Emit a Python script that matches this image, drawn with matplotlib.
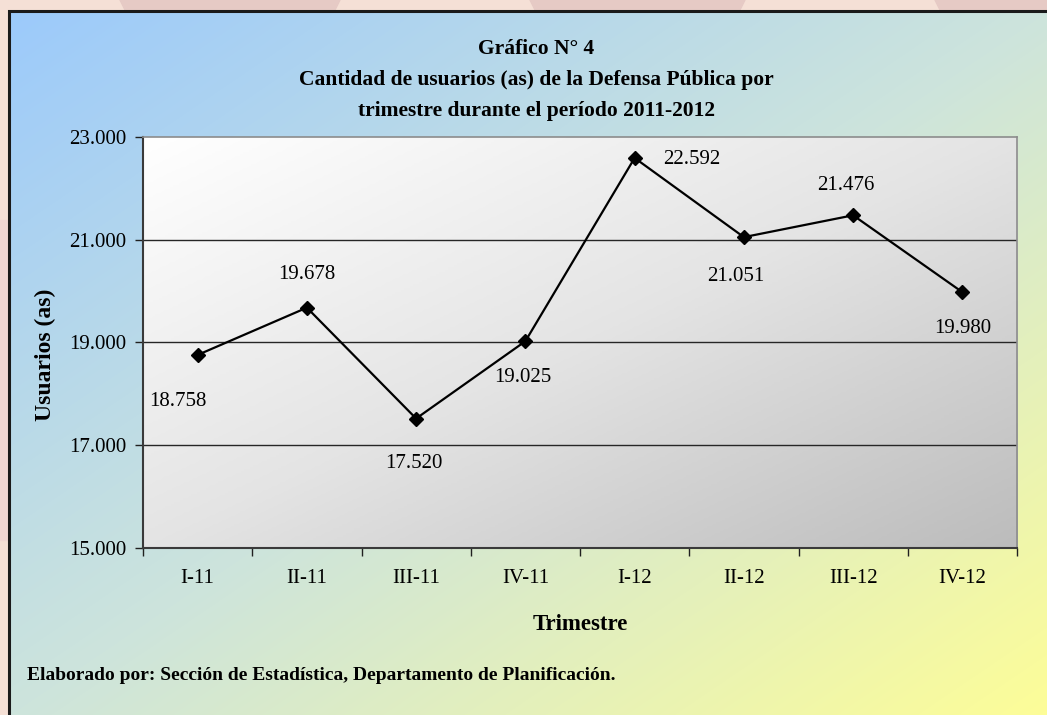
import matplotlib.pyplot as plt
import numpy as np
from matplotlib.colors import LinearSegmentedColormap
from matplotlib.patches import Polygon, Rectangle
from matplotlib.ticker import FuncFormatter

plt.rcParams['font.family'] = ['Liberation Serif', 'DejaVu Serif']

trimestres = ["I-11", "II-11", "III-11", "IV-11", "I-12", "II-12", "III-12", "IV-12"]
usuarios = [18758, 19678, 17520, 19025, 22592, 21051, 21476, 19980]
y_ticks = [15000, 17000, 19000, 21000, 23000]

titulo = ["Gráfico N° 4",
          "Cantidad de usuarios (as) de la Defensa Pública por",
          "trimestre durante el período 2011-2012"]
fuente = "Elaborado por: Sección de Estadística, Departamento de Planificación."

# where each value label sits relative to its point (pixels, up = positive)
label_offsets = [(-20, -47), (0, 33), (-2, -45), (-3, -36), (57, -2), (-8, -39), (-7, 30), (0, -36)]


def miles(v):
    return f"{v:,.0f}".replace(",", ".")


W, H = 1047, 715
fig = plt.figure(figsize=(W / 100, H / 100), dpi=100)

# slide background + chart area gradient
bg = fig.add_axes([0, 0, 1, 1], zorder=-10)
bg.axis('off')
bg.add_patch(Rectangle((0, 0), W, H, color='#f5e0d6', zorder=0))
for x0, x1 in [(120, 340), (530, 745), (935, 1060)]:
    bg.add_patch(Polygon([(x0, 0), (x1, 0), (x1 - 6, 12), (x0 + 6, 12)], color='#e6cac5', zorder=1))
bg.add_patch(Rectangle((0, 220), 10, 320, color='#f1d7d3', zorder=1))

yy, xx = np.mgrid[0:1:200j, 0:1:300j]
cmap_fondo = LinearSegmentedColormap.from_list('fondo', ['#9ccafb', '#cde4dc', '#fdfd98'])
bg.imshow((xx + yy) / 2, cmap=cmap_fondo, extent=(9, W + 2, H + 2, 11), aspect='auto',
          interpolation='bilinear', vmin=0, vmax=1, zorder=2)
bg.plot([9, 9, W + 5], [H + 5, 11, 11], color='#1a1a1a', lw=2.2, solid_joinstyle='miter', zorder=3)
bg.set_xlim(0, W)
bg.set_ylim(H, 0)

# plot area
ax = fig.add_axes([143 / W, 1 - 548 / H, (1017 - 143) / W, (548 - 137) / H])
cmap_plot = LinearSegmentedColormap.from_list('plot', ['#ffffff', '#e4e4e4', '#bcbcbc'])
ax.imshow((xx + yy) / 2, cmap=cmap_plot, extent=(0, 1, 0, 1), transform=ax.transAxes,
          aspect='auto', interpolation='bilinear', vmin=0, vmax=1, zorder=0)

x = np.arange(len(trimestres))
for g in y_ticks[1:-1]:
    ax.axhline(g, color='#262626', lw=1.0, zorder=1)
ax.plot(x, usuarios, color='black', lw=1.6, marker='D', ms=7, zorder=3)

for i, v in enumerate(usuarios):
    ax.annotate(miles(v), (i, v), xytext=label_offsets[i], textcoords='offset pixels',
                ha='center', va='center', fontsize=15, zorder=4)

ax.set_xlim(-0.5, len(trimestres) - 0.5)
ax.set_ylim(15000, 23000)
ax.set_yticks(y_ticks)
ax.yaxis.set_major_formatter(FuncFormatter(lambda v, p: miles(v)))
ax.set_xticks(x, trimestres)
ax.set_xticks(np.arange(-0.5, len(trimestres), 1), minor=True)
ax.tick_params(axis='x', which='major', length=0, pad=15, labelsize=15)
ax.tick_params(axis='x', which='minor', length=6, width=1, direction='out', color='#202020')
ax.tick_params(axis='y', length=6, width=1, pad=6, labelsize=15, color='#202020')

for s in ['left', 'bottom']:
    ax.spines[s].set_color('#3a3a3a')
    ax.spines[s].set_linewidth(1.5)
for s in ['top', 'right']:
    ax.spines[s].set_color('#8c8c8c')
    ax.spines[s].set_linewidth(1.2)

# texts
for txt, yp in zip(titulo, [49, 80, 111]):
    fig.text(536 / W, 1 - yp / H, txt, ha='center', va='center', fontsize=15.5, weight='bold')
fig.text(45 / W, 1 - 355 / H, "Usuarios (as)", rotation=90, ha='center', va='center',
         fontsize=17, weight='bold')
fig.text(580 / W, 1 - 625 / H, "Trimestre", ha='center', va='center', fontsize=16.5, weight='bold')
fig.text(27 / W, 1 - 676 / H, fuente, ha='left', va='center', fontsize=14, weight='bold')

fig.savefig('out.png', dpi=100)
